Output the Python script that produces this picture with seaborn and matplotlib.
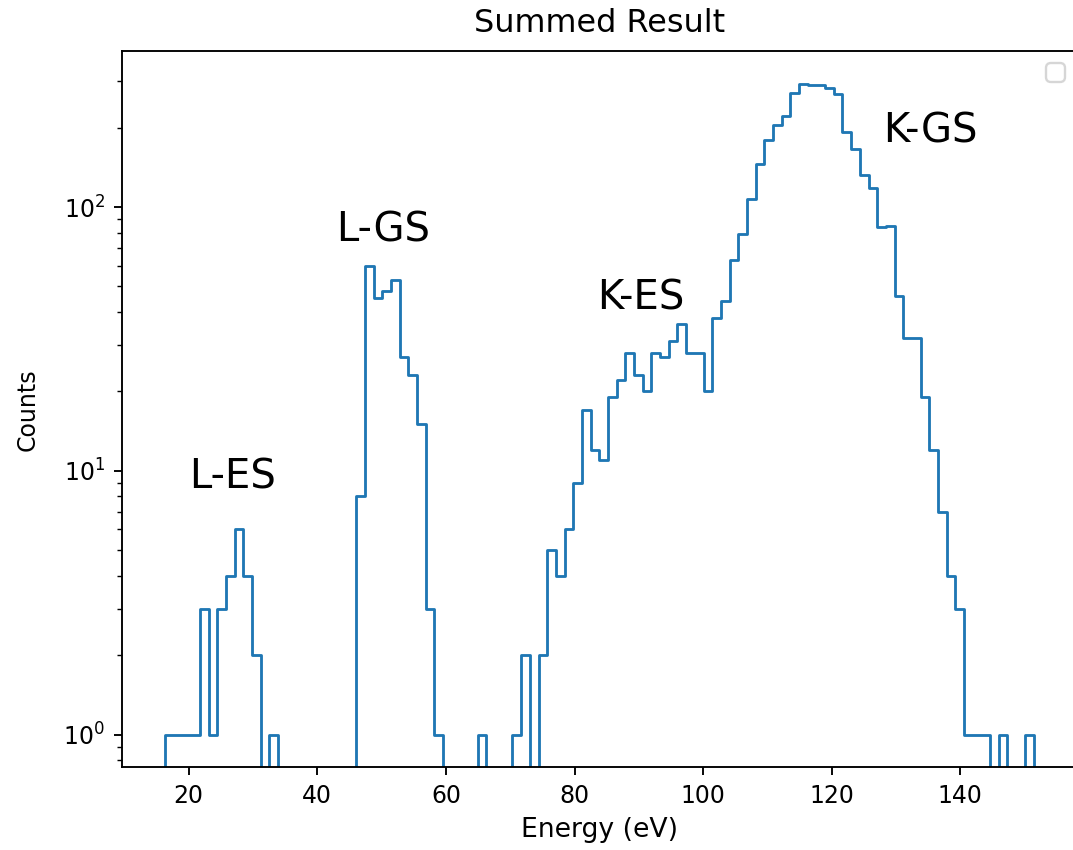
import numpy as np
import pandas as pd
import matplotlib
matplotlib.use("Agg")
import matplotlib.pyplot as plt
import seaborn as sns

# histogram of summed energies, 100 bins
e_lo, e_hi, n_bins = 16.33, 151.39, 100
counts = [1, 1, 1, 1, 3, 1, 3, 4, 6, 4,
          2, 0, 1, 0, 0, 0, 0, 0, 0, 0,
          0, 0, 8, 60, 45, 48, 53, 27, 23, 15,
          3, 1, 0, 0, 0, 0, 1, 0, 0, 0,
          1, 2, 0, 2, 5, 4, 6, 9, 17, 12,
          11, 19, 22, 28, 23, 20, 28, 27, 31, 36,
          28, 28, 20, 38, 44, 63, 79, 107, 145, 180,
          205, 221, 271, 293, 290, 290, 283, 268, 193, 166,
          132, 118, 84, 85, 46, 32, 32, 19, 12, 7,
          4, 3, 1, 1, 1, 0, 1, 0, 0, 1]

labels = ["L-ES", "L-GS", "K-ES", "K-GS"]
label_x = [20, 43, 83.5, 128]
label_y = [8.6, 74, 41, 176]

edges = np.linspace(e_lo, e_hi, n_bins + 1)
w = edges[1] - edges[0]
df = pd.DataFrame({"energy": (edges[:-1] + edges[1:]) / 2, "counts": counts})

dpi = 170
fig = plt.figure(figsize=(1073 / dpi, 850 / dpi), dpi=dpi)
ax = fig.add_axes([0.1134, 0.0976, 0.8903, 0.842])

# one empty bin on each side so the step outline drops to the baseline like plt.hist
sns.histplot(data=df, x="energy", weights="counts", bins=n_bins + 2,
             binrange=(e_lo - w, e_hi + w),
             element="step", fill=False, color="#1f77b4", linewidth=1.2, ax=ax)
ax.set_yscale("log")

# matplotlib-like 5% margins
span = e_hi - e_lo
ax.set_xlim(e_lo - 0.05 * span, e_hi + 0.05 * span)
L = np.log10(max(counts))
ax.set_ylim(10 ** (-0.05 * L), 10 ** (1.05 * L))

for t, x, y in zip(labels, label_x, label_y):
    ax.text(x, y, t, fontsize=17, ha="left", va="baseline")

ax.set_title("Summed Result", fontsize=13.5, pad=8)
ax.set_xlabel("Energy (eV)", fontsize=11.3)
ax.set_ylabel("Counts", fontsize=10, labelpad=10)
ax.legend()

fig.savefig("out.png", dpi=dpi)
